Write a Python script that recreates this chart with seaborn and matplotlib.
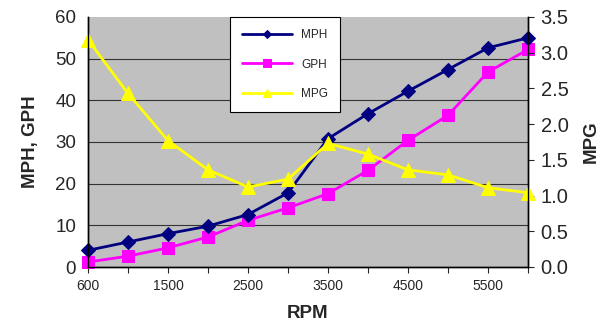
import numpy as np
import matplotlib
matplotlib.use("Agg")
import matplotlib.pyplot as plt
import seaborn as sns

# data
rpm = [600, 1000, 1500, 2000, 2500, 3000, 3500, 4000, 4500, 5000, 5500, 6000]
mph = [4.0, 6.0, 8.0, 9.8, 12.6, 17.8, 30.8, 36.8, 42.2, 47.4, 52.6, 55.0]
gph = [1.2, 2.6, 4.6, 7.2, 11.2, 14.2, 17.6, 23.2, 30.4, 36.4, 46.8, 52.2]
mpg = [3.18, 2.43, 1.77, 1.36, 1.12, 1.23, 1.73, 1.58, 1.36, 1.29, 1.11, 1.04]

sns.set_style("white")
plt.rcParams['font.family'] = ['Liberation Sans', 'DejaVu Sans']

fig = plt.figure(figsize=(6.06, 3.21), dpi=100)
ax = fig.add_axes([88/606, 1-267/321, 440/606, 250/321])
ax.set_facecolor("#C0C0C0")
idx = np.arange(len(rpm))

sns.lineplot(x=idx, y=mph, ax=ax, color="#000080", marker="D", markersize=7,
             markeredgecolor="#000080", linewidth=2, label="MPH", clip_on=False, zorder=4)
sns.lineplot(x=idx, y=gph, ax=ax, color="#FF00FF", marker="s", markersize=9,
             markeredgecolor="#FF00FF", linewidth=2, label="GPH", clip_on=False, zorder=3)

ax2 = ax.twinx()
sns.lineplot(x=idx, y=mpg, ax=ax2, color="#FFFF00", marker="^", markersize=10,
             markeredgecolor="#FFFF00", linewidth=2, label="MPG", clip_on=False)

ax.set_xlim(0, len(rpm) - 1)
ax.set_ylim(0, 60)
ax2.set_ylim(0, 3.5)
ax.set_yticks(range(0, 61, 10))
ax2.set_yticks(np.arange(0, 3.51, 0.5))
ax2.set_yticklabels([f"{v:.1f}" for v in np.arange(0, 3.51, 0.5)])
ax.set_xticks(idx)
ax.set_xticklabels([str(r) if i % 2 == 0 else "" for i, r in enumerate(rpm)])

for y in range(10, 60, 10):
    ax.axhline(y, color="#333333", linewidth=0.8, zorder=0.5)

for a in (ax, ax2):
    a.spines['top'].set_visible(False)
    for s in ('left', 'right', 'bottom'):
        a.spines[s].set_color("black")
        a.spines[s].set_linewidth(1)

ax.tick_params(axis='y', left=False, labelsize=13.5, pad=5)
ax.tick_params(axis='x', bottom=True, direction='out', length=4, labelsize=10, pad=5)
ax2.tick_params(axis='y', right=True, direction='out', length=4, labelsize=14.5, pad=5)

ax.set_xlabel("RPM", fontsize=13.5, fontweight='bold', labelpad=8)
ax.set_ylabel("MPH, GPH", fontsize=13.5, fontweight='bold', labelpad=12)
ax2.set_ylabel("MPG", fontsize=13.5, fontweight='bold', labelpad=10)

h1, l1 = ax.get_legend_handles_labels()
h2, l2 = ax2.get_legend_handles_labels()
if ax.get_legend():
    ax.get_legend().remove()
leg = ax2.legend(h1 + h2, l1 + l2, loc='upper left', bbox_to_anchor=(0.323, 1.0),
                 frameon=True, fancybox=False, edgecolor="black", fontsize=8.5,
                 labelspacing=1.5, borderpad=1.0, handlelength=4.2, markerscale=0.6,
                 borderaxespad=0)
leg.get_frame().set_linewidth(0.8)
leg.get_frame().set_facecolor("white")
leg.get_frame().set_alpha(1)
leg.set_zorder(10)

fig.savefig("out.png", dpi=100)
